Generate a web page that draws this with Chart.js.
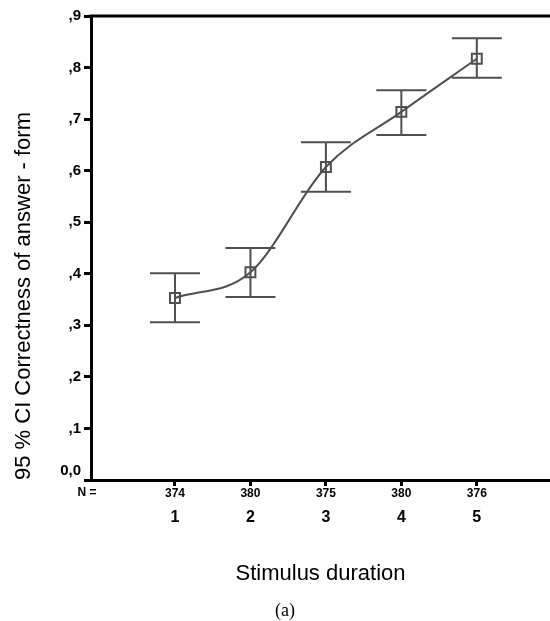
<!DOCTYPE html>
<html>
<head>
<meta charset="utf-8">
<script src="https://cdn.jsdelivr.net/npm/chart.js@4"></script>
<style>
  html, body { margin: 0; padding: 0; background: #fff; overflow: hidden; }
  #ci { display: block; }
</style>
</head>
<body>
<canvas id="ci" width="550" height="621"></canvas>
<script>
// stimulus duration groups
const categories = [1, 2, 3, 4, 5];
const groupN = [374, 380, 375, 380, 376];
// mean and 95% CI bounds
const means = [0.353, 0.403, 0.607, 0.714, 0.817];
const lower = [0.306, 0.355, 0.559, 0.669, 0.780];
const upper = [0.401, 0.450, 0.655, 0.756, 0.857];
const yTicks = [0, 0.1, 0.2, 0.3, 0.4, 0.5, 0.6, 0.7, 0.8, 0.9];
const xMin = -0.113, xMax = 5.97;

const gray = '#505050';

// draws the CI whiskers, the frame top, N row and caption
const extras = {
  id: 'extras',
  beforeDatasetsDraw(chart) {
    const {ctx, scales: {x, y}} = chart;
    ctx.save();
    ctx.strokeStyle = gray;
    ctx.lineWidth = 2;
    categories.forEach((c, i) => {
      const px = x.getPixelForValue(c);
      const top = y.getPixelForValue(upper[i]);
      const bot = y.getPixelForValue(lower[i]);
      ctx.beginPath();
      ctx.moveTo(px, top); ctx.lineTo(px, bot);
      ctx.moveTo(px - 25, top); ctx.lineTo(px + 25, top);
      ctx.moveTo(px - 25, bot); ctx.lineTo(px + 25, bot);
      ctx.stroke();
    });
    ctx.restore();
  },
  afterDraw(chart) {
    const {ctx, chartArea, scales: {x}} = chart;
    ctx.save();
    ctx.strokeStyle = '#000';
    ctx.lineWidth = 3;
    ctx.beginPath();
    ctx.moveTo(chartArea.left - 1.5, chartArea.top);
    ctx.lineTo(chartArea.right, chartArea.top);
    ctx.stroke();

    ctx.fillStyle = '#000';
    ctx.font = 'bold 12px "Liberation Sans", Arial, sans-serif';
    ctx.textAlign = 'center';
    ctx.textBaseline = 'middle';
    ctx.fillText('N =', 87, 493);
    categories.forEach((c, i) => {
      ctx.fillText(String(groupN[i]), x.getPixelForValue(c), 494);
    });

    ctx.font = '18px "Liberation Serif", "DejaVu Serif", serif';
    ctx.fillText('(a)', 285, 611);
    ctx.restore();
  }
};

new Chart(document.getElementById('ci'), {
  type: 'line',
  data: {
    datasets: [{
      data: categories.map((c, i) => ({x: c, y: means[i]})),
      borderColor: gray,
      borderWidth: 2,
      cubicInterpolationMode: 'monotone',
      pointStyle: 'rect',
      pointRadius: 7,
      pointBorderWidth: 2,
      pointBorderColor: gray,
      pointBackgroundColor: 'rgba(255,255,255,0)',
      fill: false
    }]
  },
  options: {
    responsive: false,
    animation: false,
    devicePixelRatio: 1,
    layout: { autoPadding: false, padding: { top: 16, right: 0, bottom: 0, left: 0 } },
    plugins: {
      legend: { display: false },
      tooltip: { enabled: false }
    },
    scales: {
      x: {
        type: 'linear',
        bounds: 'data',
        min: xMin,
        max: xMax,
        afterFit: s => { s.height = 141; s.paddingLeft = 0; s.paddingRight = 0; },
        afterBuildTicks: s => {
          s.ticks = categories.map(v => ({value: v}));
          s.min = xMin; s.max = xMax;
        },
        border: { display: true, color: '#000', width: 3 },
        grid: { drawOnChartArea: false, tickLength: 6, tickWidth: 3, tickColor: '#000' },
        ticks: {
          color: '#000',
          padding: 22,
          maxRotation: 0,
          font: { family: '"Liberation Sans", Arial, sans-serif', size: 16, weight: 'bold' },
          callback: v => String(v)
        },
        title: {
          display: true,
          text: 'Stimulus duration',
          color: '#000',
          font: { family: '"Liberation Sans", Arial, sans-serif', size: 22 },
          padding: { top: 0, bottom: 34 }
        }
      },
      y: {
        min: 0,
        max: 0.9,
        afterFit: s => { s.width = 91; },
        afterBuildTicks: s => { s.ticks = yTicks.map(v => ({value: v})); },
        border: { display: true, color: '#000', width: 3 },
        grid: { drawOnChartArea: false, tickLength: 7, tickWidth: 3, tickColor: '#000' },
        ticks: {
          color: '#000',
          padding: 3,
          font: { family: '"Liberation Sans", Arial, sans-serif', size: 15, weight: 'bold' },
          callback: v => v === 0 ? ['0,0', ''] : ',' + Math.round(v * 10)
        },
        title: {
          display: true,
          text: '95 % CI Correctness of answer - form',
          align: 'start',
          color: '#000',
          font: { family: '"Liberation Sans", Arial, sans-serif', size: 22 },
          padding: { top: 11, bottom: 0 }
        }
      }
    }
  },
  plugins: [extras]
});
</script>
</body>
</html>
